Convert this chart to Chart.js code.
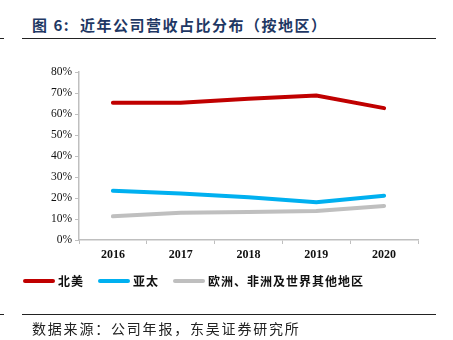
<!DOCTYPE html>
<html lang="zh-CN">
<head>
  <meta charset="UTF-8">
  <title>近年公司营收占比分布</title>
  <script src="https://cdn.jsdelivr.net/npm/chart.js"></script>
  <style>
    body { margin: 0; width: 453px; height: 340px; background: #fff; position: relative; overflow: hidden; }
    .titulo {
      position: absolute; left: 32px; top: 14px;
      font-family: "Noto Sans CJK SC", sans-serif; font-weight: bold;
      font-size: 15px; color: #1f3864; letter-spacing: 1.5px; white-space: nowrap;
    }
    .linha { position: absolute; left: 22px; width: 414px; height: 0; border-top: 1.5px solid #222; }
    .traco { position: absolute; left: 0; width: 4px; height: 0; border-top: 1.5px solid #222; }
    .fonte {
      position: absolute; left: 32px; top: 318px;
      font-family: "Noto Sans CJK SC", sans-serif; font-size: 14px;
      color: #222; letter-spacing: 1.8px; white-space: nowrap;
    }
    #grafico { position: absolute; left: 0; top: 0; }
    .legenda { position: absolute; top: 272px; left: 23px; display: flex; align-items: center;
      font-family: "Noto Sans CJK SC", sans-serif; font-size: 12px; font-weight: bold; color: #111; letter-spacing: 1px; }
    .legenda span.item { display: flex; align-items: center; margin-right: 14px; white-space: nowrap; }
    .legenda i { display: inline-block; width: 32px; height: 4px; border-radius: 2px; margin-right: 3px; }
  </style>
</head>
<body>
  <div class="titulo">图 6:&nbsp; 近年公司营收占比分布（按地区）</div>
  <div class="linha" style="top:38px"></div>
  <div class="traco" style="top:38px"></div>

  <canvas id="grafico" width="453" height="340"></canvas>
  <div class="legenda" id="legenda"></div>

  <div class="linha" style="top:314px"></div>
  <div class="traco" style="top:314px"></div>
  <div class="fonte">数据来源：公司年报，东吴证券研究所</div>

  <script>
    // anos e series (em %)
    const anos = ['2016', '2017', '2018', '2019', '2020'];
    const nomes = ['北美', '亚太', '欧洲、非洲及世界其他地区'];
    const cores = ['#c00000', '#00b0f0', '#bfbfbf'];
    const norteAmerica = [65.4, 65.4, 67.3, 68.8, 62.8];
    const asiaPacifico = [23.4, 22.2, 20.3, 18.0, 21.1];
    const outros = [11.3, 13.0, 13.3, 13.8, 16.2];
    const series = [norteAmerica, asiaPacifico, outros];

    const eixo = '#bfbfbf';

    new Chart(document.getElementById('grafico').getContext('2d'), {
      type: 'line',
      data: {
        labels: anos,
        datasets: series.map((s, i) => ({
          label: nomes[i],
          data: s,
          borderColor: cores[i],
          backgroundColor: cores[i],
          borderWidth: 4,
          borderCapStyle: 'round',
          pointRadius: 0,
          tension: 0
        }))
      },
      options: {
        responsive: false,
        animation: false,
        layout: { padding: { left: 40, right: 35, top: 72, bottom: 70 } },
        plugins: { legend: { display: false }, tooltip: { enabled: false } },
        scales: {
          x: {
            offset: true,
            grid: { offset: true, drawOnChartArea: false, tickLength: 4, color: eixo },
            border: { color: eixo, width: 1.5 },
            ticks: { color: '#111', font: { family: 'Liberation Serif', size: 12, weight: 'bold' }, padding: 4, maxRotation: 0 },
            afterFit: s => { s.height = 30; }
          },
          y: {
            min: 0, max: 80,
            grid: { drawOnChartArea: false, tickLength: 4, color: eixo },
            border: { color: eixo, width: 1.5 },
            ticks: {
              stepSize: 10, color: '#111', padding: 3,
              font: { family: 'Liberation Serif', size: 11.5 },
              callback: v => v + '%'
            },
            afterFit: s => { s.width = 39; }
          }
        }
      }
    });

    // legenda em html
    const leg = document.getElementById('legenda');
    nomes.forEach((n, i) => {
      const item = document.createElement('span');
      item.className = 'item';
      item.innerHTML = '<i style="background:' + cores[i] + '"></i>' + n;
      leg.appendChild(item);
    });
  </script>
</body>
</html>
